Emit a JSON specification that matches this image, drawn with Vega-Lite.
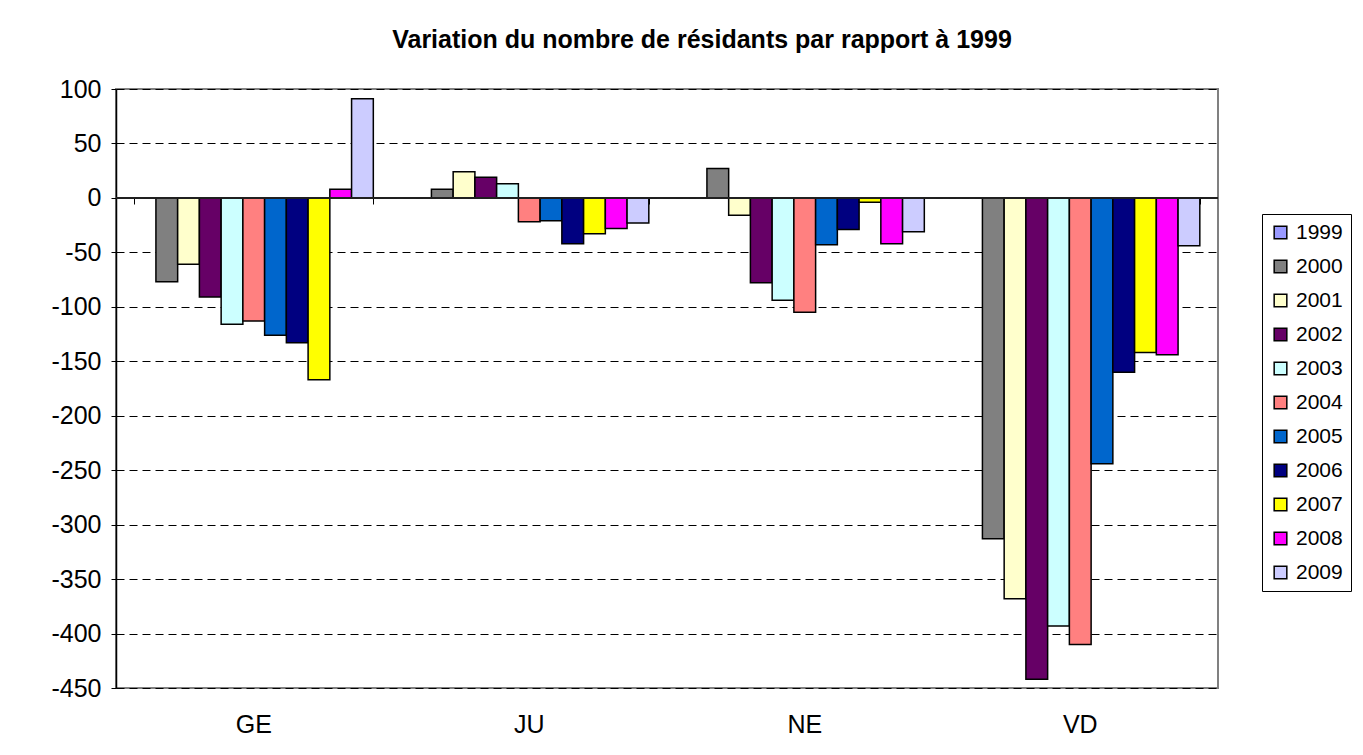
{
  "$schema": "https://vega.github.io/schema/vega-lite/v6.json",
  "width": 1102,
  "height": 599,
  "autosize": {"type": "none"},
  "padding": {"left": 116, "top": 89, "right": 145, "bottom": 67},
  "background": "white",
  "title": {
    "text": "Variation du nombre de résidants par rapport à 1999",
    "font": "Liberation Sans",
    "fontSize": 25,
    "fontWeight": "bold",
    "color": "black",
    "anchor": "middle",
    "baseline": "alphabetic",
    "dx": 35,
    "dy": 35,
    "offset": 39
  },
  "config": {
    "view": {"stroke": "#808080", "strokeWidth": 2},
    "font": "Liberation Sans"
  },
  "data": {
    "values": [
      {"cat": "GE", "year": "1999", "value": 0},
      {"cat": "GE", "year": "2000", "value": -77},
      {"cat": "GE", "year": "2001", "value": -61},
      {"cat": "GE", "year": "2002", "value": -91},
      {"cat": "GE", "year": "2003", "value": -116},
      {"cat": "GE", "year": "2004", "value": -113},
      {"cat": "GE", "year": "2005", "value": -126},
      {"cat": "GE", "year": "2006", "value": -133},
      {"cat": "GE", "year": "2007", "value": -167},
      {"cat": "GE", "year": "2008", "value": 8},
      {"cat": "GE", "year": "2009", "value": 91},
      {"cat": "JU", "year": "1999", "value": 0},
      {"cat": "JU", "year": "2000", "value": 8},
      {"cat": "JU", "year": "2001", "value": 24},
      {"cat": "JU", "year": "2002", "value": 19},
      {"cat": "JU", "year": "2003", "value": 13},
      {"cat": "JU", "year": "2004", "value": -22},
      {"cat": "JU", "year": "2005", "value": -21},
      {"cat": "JU", "year": "2006", "value": -42},
      {"cat": "JU", "year": "2007", "value": -33},
      {"cat": "JU", "year": "2008", "value": -28},
      {"cat": "JU", "year": "2009", "value": -23},
      {"cat": "NE", "year": "1999", "value": 0},
      {"cat": "NE", "year": "2000", "value": 27},
      {"cat": "NE", "year": "2001", "value": -16},
      {"cat": "NE", "year": "2002", "value": -78},
      {"cat": "NE", "year": "2003", "value": -94},
      {"cat": "NE", "year": "2004", "value": -105},
      {"cat": "NE", "year": "2005", "value": -43},
      {"cat": "NE", "year": "2006", "value": -29},
      {"cat": "NE", "year": "2007", "value": -4},
      {"cat": "NE", "year": "2008", "value": -42},
      {"cat": "NE", "year": "2009", "value": -31},
      {"cat": "VD", "year": "1999", "value": 0},
      {"cat": "VD", "year": "2000", "value": -313},
      {"cat": "VD", "year": "2001", "value": -368},
      {"cat": "VD", "year": "2002", "value": -442},
      {"cat": "VD", "year": "2003", "value": -393},
      {"cat": "VD", "year": "2004", "value": -410},
      {"cat": "VD", "year": "2005", "value": -244},
      {"cat": "VD", "year": "2006", "value": -160},
      {"cat": "VD", "year": "2007", "value": -142},
      {"cat": "VD", "year": "2008", "value": -144},
      {"cat": "VD", "year": "2009", "value": -44}
    ]
  },
  "layer": [
    {
      "mark": {"type": "bar", "stroke": "black", "strokeWidth": 1.5},
      "encoding": {
        "x": {
          "field": "cat",
          "type": "nominal",
          "scale": {"paddingInner": 0.132, "paddingOuter": 0.066},
          "axis": {
            "orient": "top",
            "offset": -109,
            "labels": false,
            "domain": false,
            "ticks": true,
            "tickBand": "extent",
            "tickSize": -6,
            "tickColor": "black",
            "grid": false,
            "title": null
          }
        },
        "xOffset": {
          "field": "year",
          "type": "nominal",
          "scale": {"paddingInner": 0, "paddingOuter": 0}
        },
        "y": {
          "field": "value",
          "type": "quantitative",
          "scale": {"domain": [-450, 100], "nice": false, "zero": false},
          "axis": {
            "title": null,
            "values": [-450, -400, -350, -300, -250, -200, -150, -100, -50, 0, 50, 100],
            "labelExpr": "'' + datum.value",
            "labelFont": "Liberation Sans",
            "labelFontSize": 25,
            "labelColor": "black",
            "labelPadding": 10,
            "tickSize": 5,
            "tickColor": "black",
            "domainColor": "black",
            "domainWidth": 1.5,
            "grid": true,
            "gridColor": "black",
            "gridDash": [8, 5],
            "encode": {
              "grid": {
                "update": {
                  "strokeOpacity": [
                    {"test": "datum.value == 100 || datum.value == -450 || datum.value == 0", "value": 0},
                    {"value": 1}
                  ]
                }
              }
            }
          }
        },
        "fill": {
          "field": "year",
          "type": "nominal",
          "scale": {
            "domain": ["1999", "2000", "2001", "2002", "2003", "2004", "2005", "2006", "2007", "2008", "2009"],
            "range": ["#9999FF", "#808080", "#FFFFCC", "#660066", "#CCFFFF", "#FF8080", "#0066CC", "#000080", "#FFFF00", "#FF00FF", "#CCCCFF"]
          },
          "legend": {
            "title": null,
            "orient": "none",
            "legendX": 1146,
            "legendY": 125,
            "strokeColor": "black",
            "fillColor": "white",
            "padding": 8,
            "symbolType": "square",
            "symbolSize": 160,
            "symbolStrokeColor": "black",
            "symbolStrokeWidth": 1.5,
            "labelFont": "Liberation Sans",
            "labelFontSize": 21,
            "labelColor": "black",
            "labelOffset": 5,
            "rowPadding": 12
          }
        }
      }
    },
    {
      "mark": {"type": "rule", "color": "#202020", "strokeWidth": 1},
      "encoding": {"y": {"datum": 0}}
    },
    {
      "mark": {"type": "text", "text": ""},
      "encoding": {
        "x": {
          "field": "cat",
          "type": "nominal",
          "axis": {
            "orient": "bottom",
            "title": null,
            "domain": false,
            "ticks": false,
            "grid": false,
            "labelAngle": 0,
            "labelFont": "Liberation Sans",
            "labelFontSize": 25,
            "labelColor": "black",
            "labelPadding": 24
          }
        }
      }
    }
  ],
  "resolve": {"axis": {"x": "independent"}}
}
